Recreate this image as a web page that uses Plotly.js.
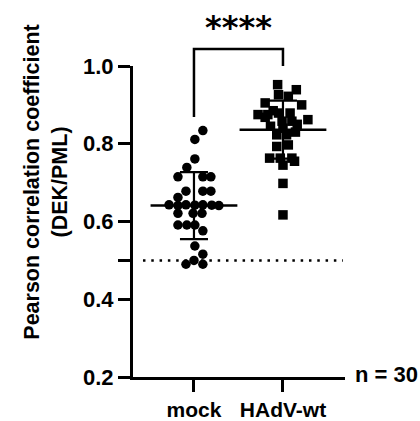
<!DOCTYPE html>
<html>
<head>
<meta charset="utf-8">
<script src="https://cdn.plot.ly/plotly-3.0.1.min.js"></script>
<style>html,body{margin:0;padding:0;background:#fff;}#chart{width:420px;height:421px;}</style>
</head>
<body>
<div id="chart"></div>
<script>
// ---- data ----
var categories = ['mock', 'HAdV-wt'];

var mockValues = [0.834, 0.811, 0.761, 0.739,
  0.715, 0.715, 0.715,
  0.678, 0.678, 0.678,
  0.662,
  0.643, 0.641, 0.643, 0.642, 0.643, 0.642, 0.641,
  0.621, 0.621, 0.621,
  0.591, 0.591, 0.591,
  0.576, 0.537, 0.516,
  0.490, 0.500, 0.490];
var mockOffsets = [0.10, 0.01, 0.01, -0.08,
  -0.18, 0.10, 0.19,
  -0.09, 0.10, 0.19,
  -0.18,
  -0.28, -0.18, -0.09, 0.01, 0.10, 0.20, 0.28,
  -0.18, -0.01, 0.09,
  -0.18, -0.08, 0.01,
  0.10, 0.01, 0.10,
  -0.09, 0.00, 0.10];

var hadvValues = [0.952, 0.939, 0.926, 0.922, 0.905, 0.900,
  0.875, 0.875, 0.879, 0.879, 0.862, 0.858, 0.858, 0.840,
  0.823, 0.823, 0.793, 0.797, 0.763, 0.763, 0.763, 0.745, 0.755,
  0.698, 0.617,
  0.868, 0.850, 0.845, 0.830, 0.885];
var hadvOffsets = [-0.06, 0.15, -0.05, 0.06, -0.20, 0.21,
  -0.28, -0.17, -0.05, 0.08, 0.28, -0.01, 0.10, 0.00,
  -0.07, 0.04, -0.07, 0.06, -0.15, -0.03, 0.10, 0.00, 0.13,
  0.00, 0.00,
  -0.20, 0.16, -0.14, 0.14, -0.11];

var thresholdValue = [0.5];
var yTickVals = [0.2, 0.4, 0.5, 0.6, 0.8, 1.0];
var yTickText = ['0.2', '0.4', '', '0.6', '0.8', '1.0'];
var yRange = [0.2, 1.0];
var xRange = [0.315, 2.697];
var thresholdSpan = [0.427, 2.674];
var significanceText = '****';
var bracketLevels = [1.044, 0.869, 1.0]; // top, left leg end, right leg end
var nLabel = 'n = 30';
var yTitle = 'Pearson correlation coefficient<br>(DEK/PML)';

// ---- helpers ----
function mean(a){ var s=0; for (var i=0;i<a.length;i++) s+=a[i]; return s/a.length; }
function sd(a){ var m=mean(a), s=0; for (var i=0;i<a.length;i++) s+=(a[i]-m)*(a[i]-m); return Math.sqrt(s/(a.length-1)); }
function toPaperY(v){ return (v - yRange[0])/(yRange[1]-yRange[0]); }

var FONT = 'Liberation Sans, Arial, sans-serif';
var groups = [
  {vals: mockValues, offs: mockOffsets, symbol: 'circle'},
  {vals: hadvValues, offs: hadvOffsets, symbol: 'square'}
];

var traces = [];
groups.forEach(function(g, gi){
  traces.push({
    type: 'scatter', mode: 'markers',
    x: g.offs.map(function(o){ return gi + 1 + o; }),
    y: g.vals,
    marker: {symbol: g.symbol, size: 9.5, color: '#000', line: {width: 0}},
    hoverinfo: 'skip', showlegend: false
  });
});
// threshold dotted line
traces.push({
  type: 'scatter', mode: 'lines',
  x: thresholdSpan, y: [thresholdValue[0], thresholdValue[0]],
  line: {color: '#000', width: 2.5, dash: '2.5px,5.8px'},
  hoverinfo: 'skip', showlegend: false
});
// mean and SD
groups.forEach(function(g, gi){
  traces.push({
    type: 'scatter', mode: 'markers',
    x: [gi + 1], y: [mean(g.vals)],
    marker: {symbol: 'line-ew-open', size: 62, color: '#000', line: {color: '#000', width: 2.5}},
    error_y: {type: 'data', array: [sd(g.vals)], visible: true, color: '#000', thickness: 2.2, width: 14},
    hoverinfo: 'skip', showlegend: false
  });
});

var shapes = [{
  type: 'path', xref: 'x', yref: 'paper',
  path: 'M 1,' + toPaperY(bracketLevels[1]) + ' L 1,' + toPaperY(bracketLevels[0]) +
        ' L 2,' + toPaperY(bracketLevels[0]) + ' L 2,' + toPaperY(bracketLevels[2]),
  line: {color: '#000', width: 2.5}
}];

var annotations = [
  {text: significanceText, xref: 'x', yref: 'paper', x: 1.5, y: toPaperY(bracketLevels[0]) + 0.004,
   xanchor: 'center', yanchor: 'bottom', showarrow: false,
   font: {family: 'DejaVu Sans, sans-serif', size: 32, weight: 'bold', color: '#000'}},
  {text: nLabel, xref: 'paper', yref: 'paper', x: 1.04, y: 0.008, xanchor: 'left', yanchor: 'middle',
   showarrow: false, font: {family: FONT, size: 22, weight: 'bold', color: '#000'}},
  {text: yTitle, xref: 'paper', yref: 'paper', x: -0.41, y: 0.625, xanchor: 'center', yanchor: 'middle',
   textangle: -90, showarrow: false,
   font: {family: FONT, size: 21.5, weight: 'bold', color: '#000'}}
];

var layout = {
  width: 420, height: 421,
  margin: {l: 133, r: 75, t: 66, b: 44, pad: 0},
  paper_bgcolor: '#fff', plot_bgcolor: '#fff',
  showlegend: false,
  xaxis: {
    range: xRange, tickvals: [1, 2], ticktext: categories,
    showline: true, linewidth: 3, linecolor: '#000',
    ticks: 'outside', ticklen: 12, tickwidth: 3, tickcolor: '#000',
    showgrid: false, zeroline: false, fixedrange: true,
    tickfont: {family: FONT, size: 21, weight: 'bold', color: '#000'}
  },
  yaxis: {
    range: yRange, tickvals: yTickVals, ticktext: yTickText,
    showline: true, linewidth: 3, linecolor: '#000',
    ticks: 'outside', ticklen: 12, tickwidth: 3, tickcolor: '#000',
    showgrid: false, zeroline: false, fixedrange: true,
    tickfont: {family: FONT, size: 22, weight: 'bold', color: '#000'}
  },
  shapes: shapes,
  annotations: annotations
};

Plotly.newPlot('chart', traces, layout, {displayModeBar: false, staticPlot: true});
</script>
</body>
</html>
